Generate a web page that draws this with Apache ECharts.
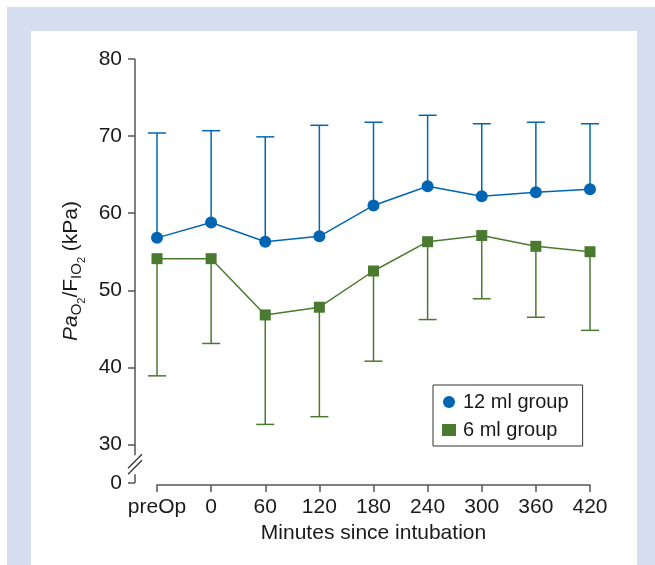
<!DOCTYPE html>
<html>
<head>
<meta charset="utf-8">
<script src="https://cdn.jsdelivr.net/npm/echarts@6/dist/echarts.min.js"></script>
<style>
html,body{margin:0;padding:0;background:#fff;}
#outer{position:absolute;left:7px;top:7px;width:648px;height:558px;background:#d5deee;}
#inner{position:absolute;left:31px;top:31px;width:606px;height:534px;background:#fff;}
#chart{position:absolute;left:0;top:0;width:655px;height:565px;}
</style>
</head>
<body>
<div id="outer"></div>
<div id="inner"></div>
<div id="chart"></div>
<script>
// ---- data ----
const categories = ['preOp', '0', '60', '120', '180', '240', '300', '360', '420'];
const mean12 = [56.8, 58.8, 56.3, 57.0, 61.0, 63.5, 62.2, 62.7, 63.1];
const upper12 = [70.4, 70.7, 69.9, 71.4, 71.8, 72.7, 71.6, 71.8, 71.6];
const mean6 = [54.1, 54.1, 46.8, 47.8, 52.5, 56.3, 57.1, 55.7, 55.0];
const lower6 = [38.9, 43.1, 32.6, 33.6, 40.8, 46.2, 48.9, 46.5, 44.8];
const yTickValues = [25, 30, 40, 50, 60, 70, 80];
const yTickLabels = { 25: '0' };

const BLUE = '#0066b3';
const GREEN = '#4a7a2f';
const AXIS = '#555555';
const TEXT = '#1a1a1a';
const FONT = 'Liberation Sans, Arial, sans-serif';

const chart = echarts.init(document.getElementById('chart'), null, { renderer: 'canvas' });

function errRender(color) {
  return function (params, api) {
    const x = api.value(0);
    const p0 = api.coord([x, api.value(1)]);
    const p1 = api.coord([x, api.value(2)]);
    const half = 9;
    const st = { stroke: color, lineWidth: 1.5 };
    return {
      type: 'group',
      children: [
        { type: 'line', shape: { x1: p0[0], y1: p0[1], x2: p1[0], y2: p1[1] }, style: st },
        { type: 'line', shape: { x1: p1[0] - half, y1: p1[1], x2: p1[0] + half, y2: p1[1] }, style: st }
      ]
    };
  };
}

const option = {
  backgroundColor: 'transparent',
  animation: false,
  textStyle: { fontFamily: FONT, color: TEXT },
  grid: { left: 157, right: 65, top: 59, bottom: 82, containLabel: false },
  legend: {
    orient: 'vertical',
    left: 433,
    top: 385,
    padding: [7, 14, 6, 9],
    borderColor: '#333',
    borderWidth: 1,
    itemGap: 8,
    itemWidth: 14,
    itemHeight: 12,
    textStyle: { fontSize: 20, color: TEXT, fontFamily: FONT, padding: [0, 0, 0, 2] },
    data: [
      { name: '12 ml group', icon: 'circle' },
      { name: '6 ml group', icon: 'rect' }
    ]
  },
  xAxis: {
    type: 'category',
    data: categories,
    boundaryGap: false,
    offset: 2,
    name: 'Minutes since intubation',
    nameLocation: 'middle',
    nameGap: 37,
    nameTextStyle: { fontSize: 21, color: TEXT, fontFamily: FONT },
    axisLine: { lineStyle: { color: AXIS, width: 1.5 } },
    axisTick: { alignWithLabel: true, interval: 0, length: 7, lineStyle: { color: AXIS, width: 1.5 } },
    axisLabel: { fontSize: 21, color: TEXT, margin: 12, interval: 0, fontFamily: FONT },
    splitLine: { show: false }
  },
  yAxis: {
    type: 'value',
    min: 25,
    max: 80,
    interval: 5,
    offset: 22,
    name: '{it|Pa}{sub|O}{ss|2}{n|/F}{sub|IO}{ss|2}{n| (kPa)}',
    nameLocation: 'middle',
    nameGap: 46,
    nameRotate: 90,
    nameTextStyle: {
      fontFamily: FONT,
      color: TEXT,
      rich: {
        it: { fontSize: 21, fontStyle: 'italic', fontFamily: FONT, color: TEXT, lineHeight: 21, verticalAlign: 'top' },
        n: { fontSize: 21, fontFamily: FONT, color: TEXT, lineHeight: 21, verticalAlign: 'top' },
        sub: { fontSize: 15, fontFamily: FONT, color: TEXT, lineHeight: 15, verticalAlign: 'top', padding: [9, 0, 0, 0] },
        ss: { fontSize: 11, fontFamily: FONT, color: TEXT, lineHeight: 11, verticalAlign: 'top', padding: [16, 0, 0, 0] }
      }
    },
    axisLine: { show: false },
    axisTick: { show: true, length: 7, customValues: yTickValues, lineStyle: { color: AXIS, width: 1.5 } },
    axisLabel: {
      fontSize: 21, color: TEXT, margin: 13, fontFamily: FONT,
      customValues: yTickValues,
      formatter: function (v) { return yTickLabels[v] !== undefined ? yTickLabels[v] : String(v); }
    },
    splitLine: { show: false }
  },
  series: [
    {
      name: '12 ml err',
      type: 'custom',
      renderItem: errRender(BLUE),
      data: categories.map((c, i) => [i, mean12[i], upper12[i]]),
      encode: { x: 0, y: [1, 2] },
      z: 1,
      silent: true
    },
    {
      name: '6 ml err',
      type: 'custom',
      renderItem: errRender(GREEN),
      data: categories.map((c, i) => [i, mean6[i], lower6[i]]),
      encode: { x: 0, y: [1, 2] },
      z: 1,
      silent: true
    },
    {
      name: '12 ml group',
      type: 'line',
      data: mean12,
      symbol: 'circle',
      symbolSize: 12,
      itemStyle: { color: BLUE },
      lineStyle: { color: BLUE, width: 1.5 },
      z: 3
    },
    {
      name: '6 ml group',
      type: 'line',
      data: mean6,
      symbol: 'rect',
      symbolSize: 11,
      itemStyle: { color: GREEN },
      lineStyle: { color: GREEN, width: 1.5 },
      z: 3
    }
  ]
};

chart.setOption(option);

// y-axis line with break marks, positioned from the axis scale
(function drawYAxisLine() {
  const gridLeft = chart.convertToPixel({ xAxisIndex: 0 }, 0);
  const ax = gridLeft - 22;
  const yTop = chart.convertToPixel({ yAxisIndex: 0 }, 80);
  const y30 = chart.convertToPixel({ yAxisIndex: 0 }, 30);
  const y0 = chart.convertToPixel({ yAxisIndex: 0 }, 25);
  const mid = (y30 + y0) / 2 + 0.5;
  const st = { stroke: AXIS, lineWidth: 1.5 };
  chart.setOption({
    graphic: [
      { id: 'ya1', type: 'line', shape: { x1: ax, y1: yTop, x2: ax, y2: mid - 9 }, style: st, silent: true },
      { id: 'ya2', type: 'line', shape: { x1: ax, y1: mid + 10, x2: ax, y2: y0 }, style: st, silent: true },
      { id: 'br1', type: 'line', shape: { x1: ax - 7, y1: mid + 4, x2: ax + 7, y2: mid - 10 }, style: { stroke: '#333', lineWidth: 1.2 }, silent: true },
      { id: 'br2', type: 'line', shape: { x1: ax - 7, y1: mid + 10, x2: ax + 7, y2: mid - 4 }, style: { stroke: '#333', lineWidth: 1.2 }, silent: true }
    ]
  });
})();
</script>
</body>
</html>
